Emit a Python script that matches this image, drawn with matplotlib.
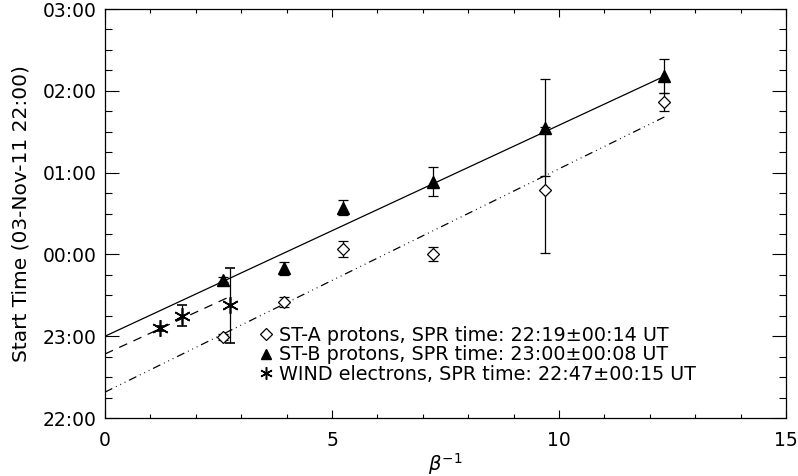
import matplotlib
matplotlib.use('Agg')
import matplotlib.pyplot as plt
from matplotlib.ticker import MultipleLocator, FuncFormatter
from matplotlib.lines import Line2D

# start times in hours after 03-Nov-11 22:00, x = 1/beta
sta_x = [2.59, 3.94, 5.25, 7.23, 9.70, 12.32]
sta_t = [0.99, 1.42, 2.07, 2.00, 2.79, 3.86]
sta_err = [0.04, 0.065, 0.10, 0.085, 0.77, 0.11]

stb_x = [2.59, 3.94, 5.25, 7.23, 9.70, 12.32]
stb_t = [1.69, 1.83, 2.57, 2.89, 3.55, 4.18]
stb_err = [0.03, 0.08, 0.09, 0.18, 0.59, 0.21]

wind_x = [1.21, 1.69, 2.75]
wind_t = [1.10, 1.25, 1.38]
wind_err = [0.03, 0.13, 0.46]

# velocity dispersion fits: release time (h after 22:00), slope (h per unit 1/beta), fit range end
fit_t0 = [0.317, 1.0, 0.783]
fit_slope = [0.273, 0.258, 0.255]
fit_xend = [12.32, 12.32, 2.75]

labels = ['ST-A protons, SPR time: 22:19\u00b100:14 UT',
          'ST-B protons, SPR time: 23:00\u00b100:08 UT',
          'WIND electrons, SPR time: 22:47\u00b100:15 UT']

def hhmm(v, pos):
    m = int(round(v * 60)) + 22 * 60
    m = m % (24 * 60)
    return '%02d:%02d' % (m // 60, m % 60)

plt.rcParams['font.family'] = 'DejaVu Sans'
fig = plt.figure(figsize=(7.98, 4.76), dpi=100)
ax = fig.add_axes([0.1316, 0.1218, 0.8534, 0.8592])

star = (6, 2, 0)
styles = [(0, (6.5, 3.2, 0.7, 3.2, 0.7, 3.2, 0.7, 3.2)), '-', (0, (7, 5.5))]

# fit lines
for t0, s, xe, ls in zip(fit_t0, fit_slope, fit_xend, styles):
    ax.plot([0, xe], [t0, t0 + s * xe], color='black', lw=0.9, ls=ls)

ekw = dict(ls='none', ecolor='black', elinewidth=0.9, capsize=3.3, capthick=0.9)
ax.errorbar(sta_x, sta_t, yerr=sta_err, marker='D', ms=6.5, mfc='white', mec='black', mew=0.9, **ekw)
ax.errorbar(stb_x, stb_t, yerr=stb_err, marker='^', ms=8, mfc='black', mec='black', **ekw)
ax.errorbar(wind_x, wind_t, yerr=wind_err, marker=star, ms=12, mfc='black', mec='black', mew=1.2, **ekw)

handles = [Line2D([], [], ls='none', marker='D', ms=6, mfc='white', mec='black', mew=0.9),
           Line2D([], [], ls='none', marker='^', ms=7.5, mfc='black', mec='black'),
           Line2D([], [], ls='none', marker=star, ms=9, mec='black', mew=1.1)]
ax.legend(handles, labels, loc='upper left', bbox_to_anchor=(0.226, 0.225), frameon=False,
          fontsize=13.8, handlelength=0.75, handletextpad=0.3, labelspacing=0.02,
          borderpad=0, borderaxespad=0)

ax.set_xlim(0, 15)
ax.set_ylim(0, 5)
ax.xaxis.set_major_locator(MultipleLocator(5))
ax.xaxis.set_minor_locator(MultipleLocator(1))
ax.yaxis.set_major_locator(MultipleLocator(1))
ax.yaxis.set_minor_locator(MultipleLocator(0.25))
ax.yaxis.set_major_formatter(FuncFormatter(hhmm))
ax.tick_params(axis='both', which='both', direction='in', top=True, right=True,
               labelsize=13.5, width=0.8, colors='black')
ax.tick_params(axis='x', which='major', length=5.8, pad=9)
ax.tick_params(axis='x', which='minor', length=2.9)
ax.tick_params(axis='y', which='major', length=9.8, pad=6)
ax.tick_params(axis='y', which='minor', length=4.9)
for sp in ax.spines.values():
    sp.set_linewidth(0.9)

ax.set_xlabel(r'$\beta^{-1}$', fontsize=14, labelpad=1)
ax.set_ylabel('Start Time (03-Nov-11 22:00)', fontsize=14.5, labelpad=9)

fig.savefig('out.png', dpi=100)
